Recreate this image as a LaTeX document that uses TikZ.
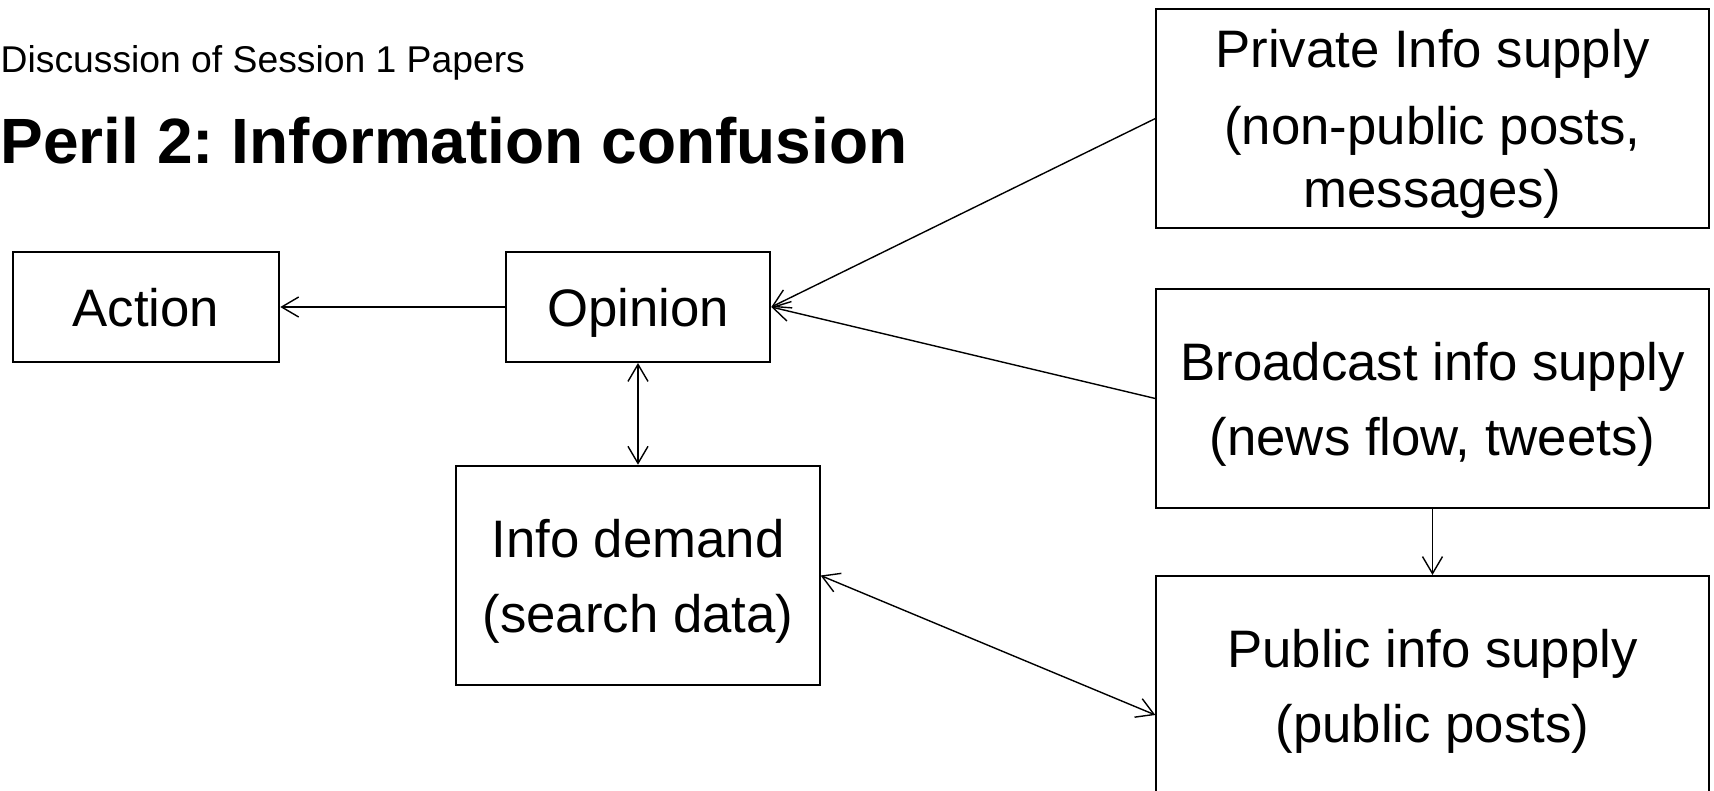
\documentclass[tikz,border=0pt]{standalone}
\usepackage{fontspec}
\setmainfont{Liberation Sans}
\usetikzlibrary{arrows.meta}
\frenchspacing

\tikzset{
	box/.style={draw, line width=0.55pt, align=center, inner sep=0pt, text depth=0pt,
		font=\fontsize{15}{21.3}\selectfont},
	boxtext/.style={align=center, inner sep=0pt, text depth=0pt,
		font=\fontsize{15}{21.3}\selectfont},
	barb/.tip={Straight Barb[length=1.7mm, width=2mm]},
	link/.style={line width=0.4pt, -barb},
	twoway/.style={line width=0.4pt, barb-barb},
}

\begin{document}
\begin{tikzpicture}[x=0.01cm, y=-0.01cm]
		\path[use as bounding box, fill=white] (0,0) rectangle (1714,790);

		% titel
		\node (sub) at (0,72) [anchor=base west, inner sep=0pt, font=\fontsize{10.6}{12}\selectfont]
			{Discussion of Session 1 Papers};
		\node (title) at (0,163) [anchor=base west, inner sep=0pt, font=\fontsize{18.2}{22}\selectfont\bfseries]
			{Peril 2: Information confusion};

		% linke seite
		\node (action) at (146,307) [box, minimum width=2.665cm, minimum height=1.1cm] {Action};
		\node (opinion) at (638,307) [box, minimum width=2.645cm, minimum height=1.1cm] {Opinion};
		\node (demand) at (638,575.5) [box, minimum width=3.63cm, minimum height=2.195cm]
			{Info demand\\(search data)};

		% rechte seite
		\node (private) at (1432.5,118.5) [box, minimum width=5.52cm, minimum height=2.19cm,
			font=\fontsize{15}{18}\selectfont]
			{Private Info supply\\[3.8pt](non-public posts,\\messages)};
		\node (broadcast) at (1432.5,398.5) [box, minimum width=5.52cm, minimum height=2.19cm]
			{Broadcast info supply\\(news flow, tweets)};
		\node (public) at (1432.5,715) [box, minimum width=5.52cm, minimum height=2.78cm] {};
		\node (publictext) at (1432.5,686) [boxtext] {Public info supply\\(public posts)};

		% pfeile
		\draw[link] (opinion) -- (action);
		\draw[link] (private.west) -- (opinion.east);
		\draw[link] (broadcast.west) -- (opinion.east);
		\draw[twoway] (opinion) -- (demand);
		\draw[twoway] (demand.east) -- (public.west);
		\draw[link] (broadcast) -- (public);
	\end{tikzpicture}
\end{document}
